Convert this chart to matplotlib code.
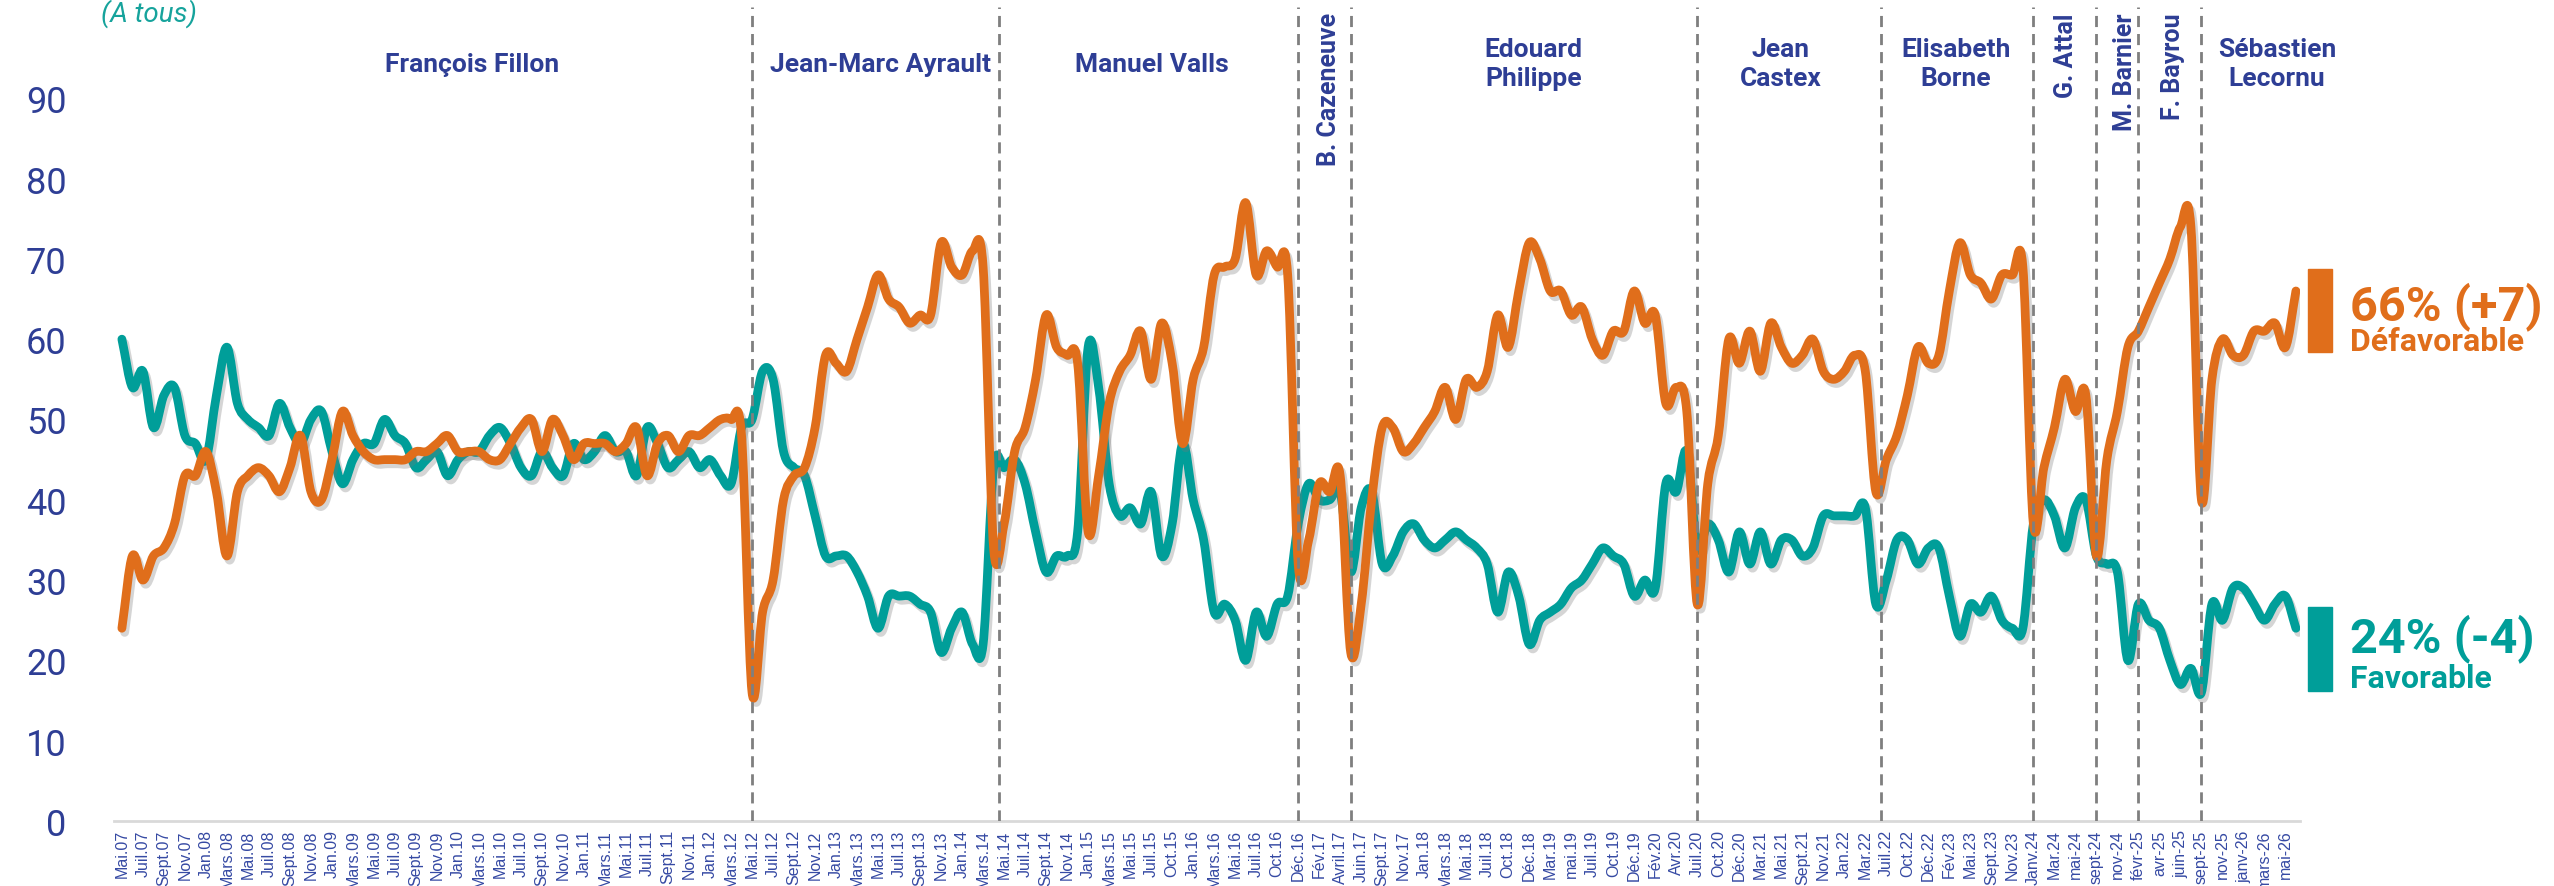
import numpy as np
import matplotlib
matplotlib.use("Agg")
import matplotlib.pyplot as plt
import matplotlib.patheffects as pe
from matplotlib.patches import Rectangle, PathPatch
from matplotlib.path import Path

# month labels (one every second poll)
months = ["Mai.07", "Juil.07", "Sept.07", "Nov.07", "Jan.08", "Mars.08", "Mai.08", "Juil.08", "Sept.08", "Nov.08",
          "Jan.09", "Mars.09", "Mai.09", "Juil.09", "Sept.09", "Nov.09", "Jan.10", "Mars.10", "Mai.10", "Juil.10",
          "Sept.10", "Nov.10", "Jan.11", "Mars.11", "Mai.11", "Juil.11", "Sept.11", "Nov.11", "Jan.12", "Mars.12",
          "Mai.12", "Juil.12", "Sept.12", "Nov.12", "Jan.13", "Mars.13", "Mai.13", "Juil.13", "Sept.13", "Nov.13",
          "Jan.14", "Mars.14", "Mai.14", "Juil.14", "Sept.14", "Nov.14", "Jan.15", "Mars.15", "Mai.15", "Juil.15",
          "Oct.15", "Jan.16", "Mars.16", "Mai.16", "Juil.16", "Oct.16", "Déc.16", "Fév.17", "Avril.17", "Juin.17",
          "Sept.17", "Nov.17", "Jan.18", "Mars.18", "Mai.18", "Juil.18", "Oct.18", "Déc.18", "Mar.19", "mai.19",
          "Juil.19", "Oct.19", "Déc.19", "Fév.20", "Avr.20", "Juil.20", "Oct.20", "Déc.20", "Mar.21", "Mai.21",
          "Sept.21", "Nov.21", "Jan.22", "Mar.22", "Juil.22", "Oct.22", "Déc.22", "Fév.23", "Mai.23", "Sept.23",
          "Nov.23", "Janv.24", "Mar.24", "mai-24", "sept-24", "nov-24", "févr-25", "avr-25", "juin-25", "sept-25",
          "nov-25", "janv-26", "mars-26", "mai-26"]

favorable = [60, 54, 56, 49, 53, 54, 48, 47, 45, 53, 59, 52, 50, 49, 48, 52, 49, 47, 50, 51,
             46, 42, 45, 47, 47, 50, 48, 47, 44, 45, 46, 43, 45, 46, 46, 48, 49, 47, 44, 43,
             46, 44, 43, 47, 45, 46, 48, 46, 46, 43, 49, 47, 44, 45, 46, 44, 45, 43, 42, 49,
             50, 56, 55, 46, 44, 43, 38, 33, 33, 33, 31, 28, 24, 28, 28, 28, 27, 26, 21, 24,
             26, 22, 22, 44, 44, 45, 42, 36, 31, 33, 33, 36, 59, 54, 42, 38, 39, 37, 41, 33,
             37, 47, 40, 35, 26, 27, 25, 20, 26, 23, 27, 28, 37, 42, 40, 40, 41, 31, 39, 41,
             32, 33, 36, 37, 35, 34, 35, 36, 35, 34, 32, 26, 31, 28, 22, 25, 26, 27, 29, 30,
             32, 34, 33, 32, 28, 30, 29, 42, 41, 46, 34, 37, 35, 31, 36, 32, 36, 32, 35, 35,
             33, 34, 38, 38, 38, 38, 39, 27, 30, 35, 35, 32, 34, 34, 28, 23, 27, 26, 28, 25,
             24, 24, 37, 40, 38, 34, 39, 40, 33, 32, 31, 20, 27, 25, 24, 20, 17, 19, 16, 27,
             25, 29, 29, 27, 25, 27, 28, 24]

defavorable = [24, 33, 30, 33, 34, 37, 43, 43, 46, 41, 33, 41, 43, 44, 43, 41, 44, 48, 41, 40,
               45, 51, 48, 46, 45, 45, 45, 45, 46, 46, 47, 48, 46, 46, 46, 45, 45, 47, 49, 50,
               46, 50, 48, 45, 47, 47, 47, 46, 47, 49, 43, 47, 48, 46, 48, 48, 49, 50, 50, 48,
               16, 26, 30, 40, 43, 44, 49, 58, 57, 56, 60, 64, 68, 65, 64, 62, 63, 63, 72, 69,
               68, 71, 69, 34, 37, 46, 49, 55, 63, 59, 58, 57, 36, 43, 52, 56, 58, 61, 55, 62,
               57, 47, 55, 59, 68, 69, 70, 77, 68, 71, 69, 68, 32, 35, 42, 41, 43, 21, 27, 40,
               49, 49, 46, 47, 49, 51, 54, 50, 55, 54, 56, 63, 59, 66, 72, 70, 66, 66, 63, 64,
               60, 58, 61, 61, 66, 62, 63, 52, 54, 51, 27, 42, 48, 60, 57, 61, 56, 62, 59, 57,
               58, 60, 56, 55, 56, 58, 56, 41, 45, 48, 53, 59, 57, 58, 66, 72, 68, 67, 65, 68,
               68, 69, 37, 44, 49, 55, 51, 53, 33, 45, 51, 59, 61, 64, 67, 70, 74, 74, 40, 55,
               60, 58, 58, 61, 61, 62, 59, 66]

# prime ministers and the poll index where each term starts
pm_names = ["François Fillon", "Jean-Marc Ayrault", "Manuel Valls", "B. Cazeneuve", "Edouard\nPhilippe",
            "Jean\nCastex", "Elisabeth\nBorne", "G. Attal", "M. Barnier", "F. Bayrou", "Sébastien\nLecornu"]
pm_start = [0, 60, 83.5, 112, 117, 150, 167.5, 182, 188, 192, 198]

BLUE = "#2E3E95"
TEAL = "#009E99"
ORANGE = "#E06E1B"


def smooth_path(xs, ys):
    # Bezier path through every point (like a spreadsheet "smoothed line")
    p = np.column_stack([xs, ys]).astype(float)
    t = np.zeros_like(p)
    t[1:-1] = (p[2:] - p[:-2]) / 2.0
    t[0] = p[1] - p[0]
    t[-1] = p[-1] - p[-2]
    verts = [p[0]]
    codes = [Path.MOVETO]
    for i in range(len(p) - 1):
        verts += [p[i] + t[i] / 3.0, p[i + 1] - t[i + 1] / 3.0, p[i + 1]]
        codes += [Path.CURVE4] * 3
    return Path(verts, codes)


fig = plt.figure(figsize=(25.54, 8.87), dpi=100)
ax = fig.add_axes([0.0446, 0.0733, 0.856, 0.918])

x = np.arange(len(favorable))
shadow = [pe.SimpleLineShadow(offset=(2, -3), shadow_color="#777777", alpha=0.3), pe.Normal()]
for series, col, z in [(favorable, TEAL, 3), (defavorable, ORANGE, 4)]:
    patch = PathPatch(smooth_path(x, series), facecolor="none", edgecolor=col, lw=6.3,
                      joinstyle="round", capstyle="round", zorder=z)
    patch.set_path_effects(shadow)
    ax.add_patch(patch)

for s in pm_start[1:]:
    ax.axvline(s, color="#7F7F7F", lw=2, linestyle=(0, (4, 2.5)), zorder=5)

# prime minister labels
label_x = [33.3, 72.2, 98.1, 114.9, 134.4, 157.9, 174.6, 185.1, 190.7, 195.3, 205.2]
vertical = {"B. Cazeneuve", "G. Attal", "M. Barnier", "F. Bayrou"}
for name, lx in zip(pm_names, label_x):
    if name in vertical:
        ax.text(lx, 100.7, name, rotation=90, ha="center", va="top", fontsize=18,
                fontweight="bold", family="Roboto", color=BLUE, zorder=6)
    else:
        ax.text(lx, 94.3, name, ha="center", va="center", fontsize=19, fontweight="bold",
                family="Roboto", color=BLUE, linespacing=1.25, zorder=6)

ax.set_xlim(-0.76, 207.4)
ax.set_ylim(0, 101.4)
ax.set_yticks(range(0, 100, 10))
ax.set_xticks(x[::2])
ax.set_xticklabels(months, rotation=90, fontsize=11.5, family="Liberation Sans", color="#3549A3")
ax.tick_params(axis="x", length=0, pad=6)
ax.tick_params(axis="y", length=0, pad=34, labelsize=26, labelcolor=BLUE)
for lab in ax.get_yticklabels():
    lab.set_family("Roboto")
for side in ["top", "right", "left"]:
    ax.spines[side].set_visible(False)
ax.spines["bottom"].set_color("#D9D9D9")
ax.spines["bottom"].set_linewidth(2)

fig.text(0.0395, 0.985, "(A tous)", fontsize=20, style="italic", family="Roboto",
         color="#16A39C", ha="left", va="center")

# end-of-series annotations
d_last, d_prev = defavorable[-1], defavorable[-2]
f_last, f_prev = favorable[-1], favorable[-2]
fig.patches.append(Rectangle((0.9037, 0.602), 0.0094, 0.094, transform=fig.transFigure,
                             color=ORANGE, figure=fig))
fig.patches.append(Rectangle((0.9037, 0.220), 0.0094, 0.094, transform=fig.transFigure,
                             color=TEAL, figure=fig))
fig.text(0.920, 0.639, f"{d_last}% ({d_last - d_prev:+d})", fontsize=35, fontweight="bold",
         family="Roboto", color=ORANGE, va="baseline")
fig.text(0.920, 0.604, "Défavorable", fontsize=23, fontweight="bold", family="Roboto",
         color=ORANGE, va="baseline")
fig.text(0.920, 0.265, f"{f_last}% ({f_last - f_prev:+d})", fontsize=35,
         fontweight="bold", family="Roboto", color=TEAL, va="baseline")
fig.text(0.920, 0.224, "Favorable", fontsize=23, fontweight="bold", family="Roboto",
         color=TEAL, va="baseline")

fig.savefig("out.png", dpi=100)
